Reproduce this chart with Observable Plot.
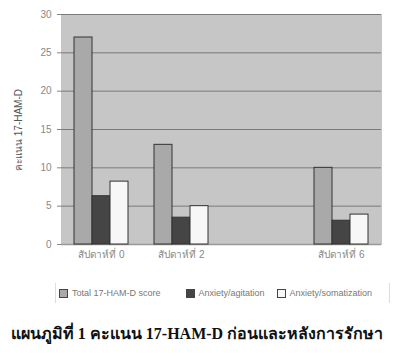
<!DOCTYPE html>
<html>
<head>
<meta charset="utf-8">
<script src="https://cdn.jsdelivr.net/npm/d3@7"></script>
<script src="https://cdn.jsdelivr.net/npm/@observablehq/plot@0.6"></script>
<style>
  html, body { margin: 0; padding: 0; background: #fff; }
  body { width: 394px; height: 359px; position: relative; overflow: hidden; font-family: "DejaVu Sans", "Noto Sans", sans-serif; }
  #chart { position: absolute; left: 0; top: 0; }
  #ytitle { position: absolute; left: 18px; top: 130px; transform: translate(-50%, -50%) rotate(-90deg); white-space: nowrap; font-size: 10px; color: #555; font-family: "Liberation Sans", Arial, sans-serif; }
  #legend { position: absolute; left: 55px; top: 283px; width: 333px; height: 20px; border-left: 1px solid #ddd; border-right: 1px solid #ddd; display: flex; align-items: center; font-size: 9px; color: #777; font-family: "Liberation Sans", Arial, sans-serif; }
  .item { display: flex; align-items: center; }
  .sw { width: 9px; height: 9px; border: 1px solid #444; margin-right: 4px; box-sizing: border-box; }
  #caption { position: absolute; left: 0; top: 321px; width: 394px; text-align: center; font-size: 16px; font-weight: bold; color: #111; font-family: "Liberation Serif", "Noto Sans", serif; white-space: nowrap; }
</style>
</head>
<body>
<div id="chart"></div>
<div id="ytitle"></div>
<div id="legend"></div>
<div id="caption"></div>
<script>
const weeks = ["สัปดาห์ที่ 0", "สัปดาห์ที่ 2", "สัปดาห์ที่ 4", "สัปดาห์ที่ 6"];
const weekLabels = ["สัปดาห์ที่ 0", "สัปดาห์ที่ 2", "", "สัปดาห์ที่ 6"];
const seriesNames = ["Total 17-HAM-D score", "Anxiety/agitation", "Anxiety/somatization"];
const totalScore = [27, 13, null, 10];
const agitation = [6.3, 3.5, null, 3.1];
const somatization = [8.2, 5, null, 3.9];
const yTicks = [0, 5, 10, 15, 20, 25, 30];
const yTitle = "คะแนน 17-HAM-D";
const captionText = "แผนภูมิที่ 1 คะแนน 17-HAM-D ก่อนและหลังการรักษา";

const colors = ["#a9a9a9", "#454545", "#f7f7f7"];
const bg = "#c6c6c6";

const rows = [];
[totalScore, agitation, somatization].forEach((vals, si) => {
  vals.forEach((v, wi) => {
    rows.push({week: weeks[wi], series: seriesNames[si], value: v});
  });
});

const chart = Plot.plot({
  width: 394,
  height: 270,
  marginTop: 14,
  marginBottom: 26,
  marginLeft: 61,
  marginRight: 13,
  style: {fontFamily: "Liberation Sans, Arial, sans-serif", fontSize: "10px", color: "#888", background: "transparent"},
  fx: {domain: weeks, padding: 0, label: null, tickSize: 0, tickPadding: 6,
       tickFormat: d => weekLabels[weeks.indexOf(d)]},
  x: {domain: seriesNames, paddingInner: 0, paddingOuter: 0.72, axis: null},
  y: {domain: [0, 30], ticks: yTicks, label: null, tickSize: 4, tickPadding: 6},
  color: {domain: seriesNames, range: colors},
  marks: [
    Plot.frame({fill: bg, stroke: bg}),
    Plot.gridY(yTicks.slice(1), {stroke: "#7a7a7a", strokeOpacity: 1, strokeWidth: 1}),
    Plot.ruleY([0], {stroke: "#999", strokeWidth: 1.5}),
    Plot.barY(rows, {fx: "week", x: "series", y: "value", fill: "series", stroke: "#333", strokeWidth: 1, inset: 0})
  ]
});
document.getElementById("chart").appendChild(chart);
document.getElementById("ytitle").textContent = yTitle;

// legend
const legend = document.getElementById("legend");
const lgGaps = ["3px", "25px", "12px"];
seriesNames.forEach((name, i) => {
  const it = document.createElement("div");
  it.className = "item";
  it.style.marginLeft = lgGaps[i];
  const sw = document.createElement("div");
  sw.className = "sw";
  sw.style.background = colors[i];
  it.appendChild(sw);
  const t = document.createElement("span");
  t.textContent = name;
  it.appendChild(t);
  legend.appendChild(it);
});
document.getElementById("caption").textContent = captionText;
</script>
</body>
</html>
